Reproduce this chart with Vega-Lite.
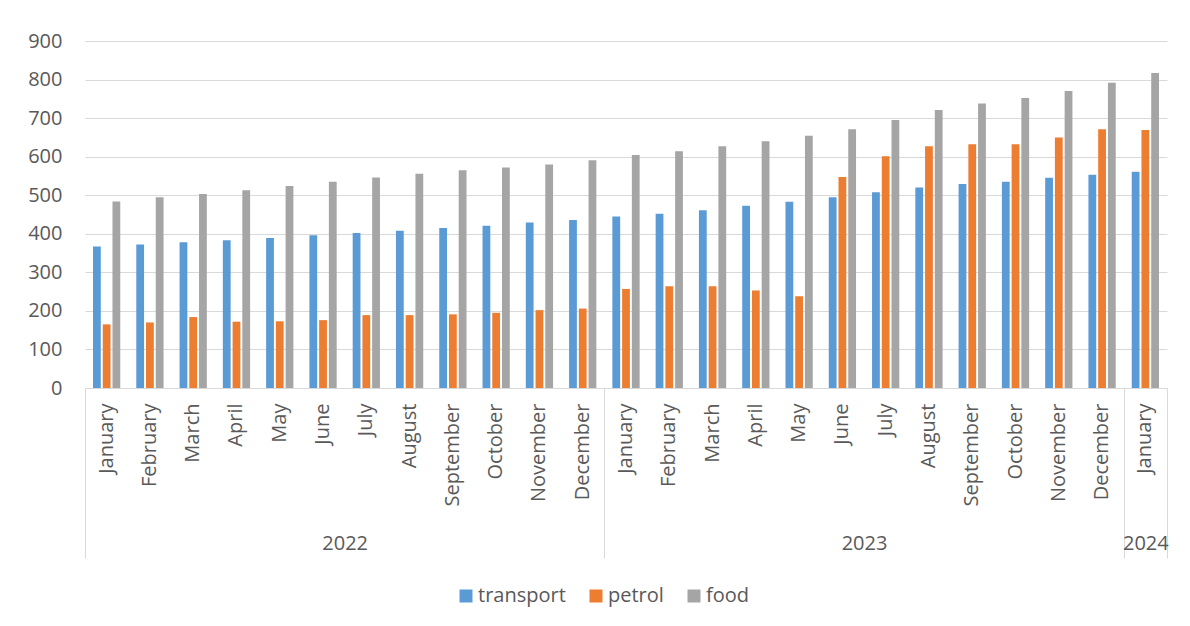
{
  "$schema": "https://vega.github.io/schema/vega-lite/v6.json",
  "width": 1082,
  "height": 347,
  "autosize": "none",
  "padding": {"left": 85, "top": 41, "right": 23, "bottom": 238},
  "background": "white",
  "config": {
    "font": "Open Sans",
    "view": {"stroke": null},
    "axis": {"labelColor": "#595959", "labelFontSize": 20, "titleColor": "#595959"}
  },
  "datasets": {
    "bars": [
      {"period": "2022 January", "series": "transport", "value": 367},
      {"period": "2022 January", "series": "petrol", "value": 165},
      {"period": "2022 January", "series": "food", "value": 484},
      {"period": "2022 February", "series": "transport", "value": 372},
      {"period": "2022 February", "series": "petrol", "value": 170},
      {"period": "2022 February", "series": "food", "value": 495},
      {"period": "2022 March", "series": "transport", "value": 378},
      {"period": "2022 March", "series": "petrol", "value": 184},
      {"period": "2022 March", "series": "food", "value": 503},
      {"period": "2022 April", "series": "transport", "value": 383},
      {"period": "2022 April", "series": "petrol", "value": 172},
      {"period": "2022 April", "series": "food", "value": 513},
      {"period": "2022 May", "series": "transport", "value": 389},
      {"period": "2022 May", "series": "petrol", "value": 173},
      {"period": "2022 May", "series": "food", "value": 524},
      {"period": "2022 June", "series": "transport", "value": 396},
      {"period": "2022 June", "series": "petrol", "value": 176},
      {"period": "2022 June", "series": "food", "value": 535},
      {"period": "2022 July", "series": "transport", "value": 402},
      {"period": "2022 July", "series": "petrol", "value": 189},
      {"period": "2022 July", "series": "food", "value": 546},
      {"period": "2022 August", "series": "transport", "value": 408},
      {"period": "2022 August", "series": "petrol", "value": 189},
      {"period": "2022 August", "series": "food", "value": 556},
      {"period": "2022 September", "series": "transport", "value": 415},
      {"period": "2022 September", "series": "petrol", "value": 191},
      {"period": "2022 September", "series": "food", "value": 565},
      {"period": "2022 October", "series": "transport", "value": 421},
      {"period": "2022 October", "series": "petrol", "value": 195},
      {"period": "2022 October", "series": "food", "value": 572},
      {"period": "2022 November", "series": "transport", "value": 429},
      {"period": "2022 November", "series": "petrol", "value": 202},
      {"period": "2022 November", "series": "food", "value": 580},
      {"period": "2022 December", "series": "transport", "value": 436},
      {"period": "2022 December", "series": "petrol", "value": 206},
      {"period": "2022 December", "series": "food", "value": 591},
      {"period": "2023 January", "series": "transport", "value": 445},
      {"period": "2023 January", "series": "petrol", "value": 257},
      {"period": "2023 January", "series": "food", "value": 604},
      {"period": "2023 February", "series": "transport", "value": 452},
      {"period": "2023 February", "series": "petrol", "value": 264},
      {"period": "2023 February", "series": "food", "value": 614},
      {"period": "2023 March", "series": "transport", "value": 461},
      {"period": "2023 March", "series": "petrol", "value": 264},
      {"period": "2023 March", "series": "food", "value": 627},
      {"period": "2023 April", "series": "transport", "value": 473},
      {"period": "2023 April", "series": "petrol", "value": 253},
      {"period": "2023 April", "series": "food", "value": 640},
      {"period": "2023 May", "series": "transport", "value": 483},
      {"period": "2023 May", "series": "petrol", "value": 238},
      {"period": "2023 May", "series": "food", "value": 654},
      {"period": "2023 June", "series": "transport", "value": 495},
      {"period": "2023 June", "series": "petrol", "value": 547},
      {"period": "2023 June", "series": "food", "value": 671},
      {"period": "2023 July", "series": "transport", "value": 508},
      {"period": "2023 July", "series": "petrol", "value": 601},
      {"period": "2023 July", "series": "food", "value": 695},
      {"period": "2023 August", "series": "transport", "value": 520},
      {"period": "2023 August", "series": "petrol", "value": 627},
      {"period": "2023 August", "series": "food", "value": 721},
      {"period": "2023 September", "series": "transport", "value": 529},
      {"period": "2023 September", "series": "petrol", "value": 632},
      {"period": "2023 September", "series": "food", "value": 738},
      {"period": "2023 October", "series": "transport", "value": 535},
      {"period": "2023 October", "series": "petrol", "value": 632},
      {"period": "2023 October", "series": "food", "value": 752},
      {"period": "2023 November", "series": "transport", "value": 545},
      {"period": "2023 November", "series": "petrol", "value": 650},
      {"period": "2023 November", "series": "food", "value": 770},
      {"period": "2023 December", "series": "transport", "value": 553},
      {"period": "2023 December", "series": "petrol", "value": 671},
      {"period": "2023 December", "series": "food", "value": 792},
      {"period": "2024 January", "series": "transport", "value": 561},
      {"period": "2024 January", "series": "petrol", "value": 669},
      {"period": "2024 January", "series": "food", "value": 817}
    ],
    "bounds": [{"pos": 0}, {"pos": 12}, {"pos": 24}, {"pos": 25}],
    "years": [{"year": "2022", "pos": 6}, {"year": "2023", "pos": 18}, {"year": "2024", "pos": 24.5}]
  },
  "layer": [
    {
      "data": {"name": "bars"},
      "mark": {"type": "bar"},
      "encoding": {
        "x": {
          "field": "period",
          "type": "ordinal",
          "sort": null,
          "scale": {"paddingInner": 0.37, "paddingOuter": 0.185},
          "axis": {
            "orient": "bottom",
            "title": null,
            "labelAngle": 270,
            "labelPadding": 15,
            "labelExpr": "split(datum.value, ' ')[1]",
            "ticks": false,
            "domainColor": "#d9d9d9",
            "domainWidth": 1,
            "grid": false
          }
        },
        "xOffset": {
          "field": "series",
          "type": "nominal",
          "sort": ["transport", "petrol", "food"],
          "scale": {"paddingInner": 0.2, "paddingOuter": 0}
        },
        "y": {
          "field": "value",
          "type": "quantitative",
          "scale": {"domain": [0, 900], "nice": false},
          "axis": {
            "title": null,
            "values": [0, 100, 200, 300, 400, 500, 600, 700, 800, 900],
            "domain": false,
            "ticks": false,
            "labelPadding": 23,
            "gridColor": "#d9d9d9",
            "gridWidth": 1
          }
        },
        "color": {
          "field": "series",
          "type": "nominal",
          "scale": {"domain": ["transport", "petrol", "food"], "range": ["#5b9bd5", "#ed7d31", "#a5a5a5"]},
          "legend": {
            "title": null,
            "orient": "none",
            "direction": "horizontal",
            "legendX": 371,
            "legendY": 545,
            "symbolType": "square",
            "symbolSize": 169,
            "symbolStrokeWidth": 0,
            "labelFontSize": 20,
            "labelColor": "#595959",
            "labelOffset": 2,
            "columnPadding": 20
          }
        }
      }
    },
    {
      "data": {"name": "bounds"},
      "mark": {"type": "rule", "opacity": 0},
      "encoding": {
        "x": {
          "field": "pos",
          "type": "quantitative",
          "scale": {"domain": [0, 25], "nice": false, "zero": false},
          "axis": {
            "orient": "bottom",
            "title": null,
            "values": [0, 12, 24, 25],
            "labels": false,
            "domain": false,
            "grid": false,
            "ticks": true,
            "tickSize": 170,
            "tickColor": "#d9d9d9",
            "tickWidth": 1
          }
        }
      }
    },
    {
      "data": {"name": "years"},
      "mark": {"type": "rule", "opacity": 0},
      "encoding": {
        "x": {
          "field": "pos",
          "type": "quantitative",
          "scale": {"domain": [0, 25], "nice": false, "zero": false},
          "axis": {
            "orient": "bottom",
            "title": null,
            "values": [6, 18, 24.5],
            "labelExpr": "datum.value == 6 ? '2022' : datum.value == 18 ? '2023' : '2024'",
            "labelPadding": 145,
            "labelBaseline": "top",
            "labelFlush": false,
            "labelOverlap": false,
            "domain": false,
            "grid": false,
            "ticks": false
          }
        }
      }
    }
  ],
  "resolve": {"scale": {"x": "independent"}, "axis": {"x": "independent"}}
}
